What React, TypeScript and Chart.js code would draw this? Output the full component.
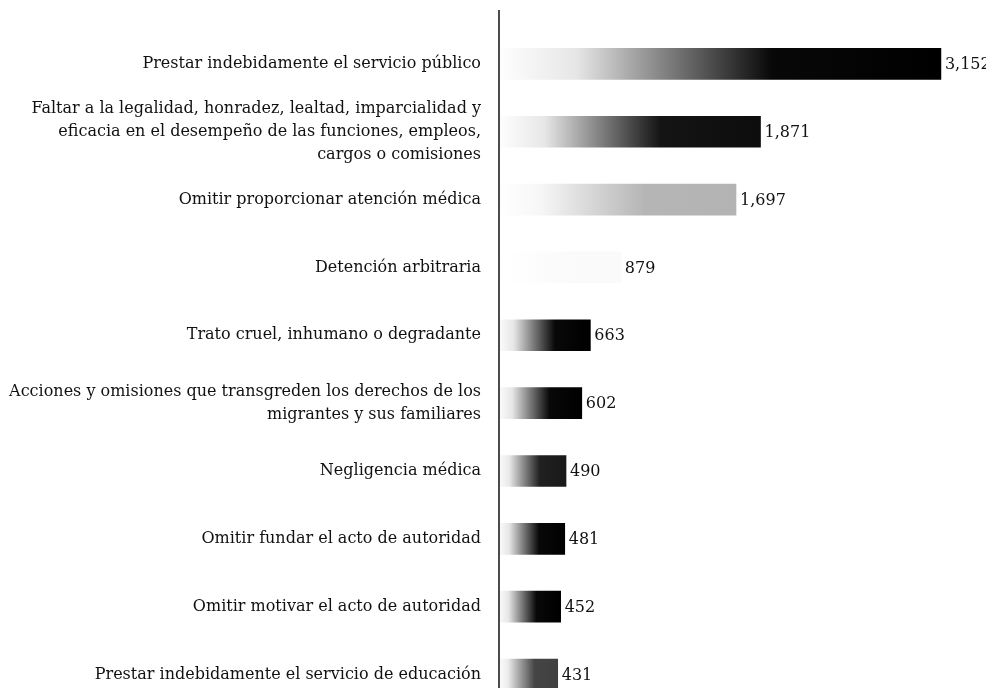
import React, { useEffect, useRef } from "react";
import { Chart, registerables } from "chart.js";

Chart.register(...registerables);

const categories: (string | string[])[] = [
  "Prestar indebidamente el servicio público",
  [
    "Faltar a la legalidad, honradez, lealtad, imparcialidad y",
    "eficacia en el desempeño de las funciones, empleos,",
    "cargos o comisiones",
  ],
  "Omitir proporcionar atención médica",
  "Detención arbitraria",
  "Trato cruel, inhumano o degradante",
  [
    "Acciones y omisiones que transgreden los derechos de los",
    "migrantes y sus familiares",
  ],
  "Negligencia médica",
  "Omitir fundar el acto de autoridad",
  "Omitir motivar el acto de autoridad",
  "Prestar indebidamente el servicio de educación",
];

const values: number[] = [3152, 1871, 1697, 879, 663, 602, 490, 481, 452, 431];

// darkness reached by each scanned bar (style only)
const barInk: number[] = [1, 0.95, 0.3, 0.02, 1, 1, 0.9, 1, 1, 0.75];

const FONT = "'DejaVu Serif', 'Liberation Serif', serif";

function grey(d: number): string {
  const v = Math.round(255 * (1 - Math.max(0, Math.min(1, d))));
  return `rgb(${v},${v},${v})`;
}

const valueLabels = {
  id: "valueLabels",
  afterDatasetsDraw(chart: any) {
    const { ctx } = chart;
    const meta = chart.getDatasetMeta(0);
    ctx.save();
    ctx.font = `16px ${FONT}`;
    ctx.fillStyle = "#111";
    ctx.textAlign = "left";
    ctx.textBaseline = "middle";
    meta.data.forEach((bar: any, i: number) => {
      ctx.fillText(values[i].toLocaleString("en-US"), bar.x + 4, bar.y + 1);
    });
    ctx.restore();
  },
};

const axisLine = {
  id: "axisLine",
  afterDraw(chart: any) {
    const { ctx, chartArea } = chart;
    ctx.save();
    ctx.strokeStyle = "#111";
    ctx.lineWidth = 1.5;
    ctx.beginPath();
    const x = chartArea.left + 2;
    ctx.moveTo(x, chartArea.top - 20);
    ctx.lineTo(x, chart.height);
    ctx.stroke();
    ctx.restore();
  },
};

export default function App() {
  const ref = useRef<HTMLCanvasElement | null>(null);

  useEffect(() => {
    if (!ref.current) return;
    const chart = new Chart(ref.current, {
      type: "bar",
      data: {
        labels: categories,
        datasets: [
          {
            data: values,
            barThickness: 31,
            backgroundColor: (ctx: any) => {
              const c = ctx.chart;
              const xs = c.scales && c.scales.x;
              const ink = barInk[ctx.dataIndex] ?? 1;
              if (!xs || !c.chartArea) return grey(ink);
              const x0 = xs.getPixelForValue(0);
              const x1 = xs.getPixelForValue(values[ctx.dataIndex]);
              if (!isFinite(x0) || !isFinite(x1) || x1 <= x0) return grey(ink);
              const g = c.ctx.createLinearGradient(x0, 0, x1, 0);
              g.addColorStop(0, "#ffffff");
              g.addColorStop(0.18, grey(0.1 * ink));
              g.addColorStop(0.38, grey(0.5 * ink));
              g.addColorStop(0.62, grey(0.97 * ink));
              g.addColorStop(1, grey(ink));
              return g;
            },
            borderWidth: 0,
          },
        ],
      },
      options: {
        indexAxis: "y",
        animation: false,
        responsive: false,
        maintainAspectRatio: false,
        layout: { padding: { top: 30, bottom: 3, right: 1, left: 0 } },
        plugins: {
          legend: { display: false },
          tooltip: { enabled: false },
        },
        scales: {
          x: {
            min: 0,
            max: 3465,
            display: false,
            grid: { display: false },
          },
          y: {
            grid: { display: false, drawTicks: false },
            border: { display: false },
            ticks: {
              autoSkip: false,
              color: "#111",
              padding: 16,
              font: { family: FONT, size: 16, lineHeight: 1.45 },
            },
            afterFit: (scale: any) => {
              scale.width = 497;
            },
          },
        },
      },
      plugins: [valueLabels, axisLine],
    });
    return () => chart.destroy();
  }, []);

  return (
    <div
      style={{
        position: "fixed",
        left: 0,
        top: 0,
        width: 986,
        height: 688,
        overflow: "hidden",
        background: "#fff",
      }}
    >
      <canvas ref={ref} width={986} height={736} />
    </div>
  );
}
